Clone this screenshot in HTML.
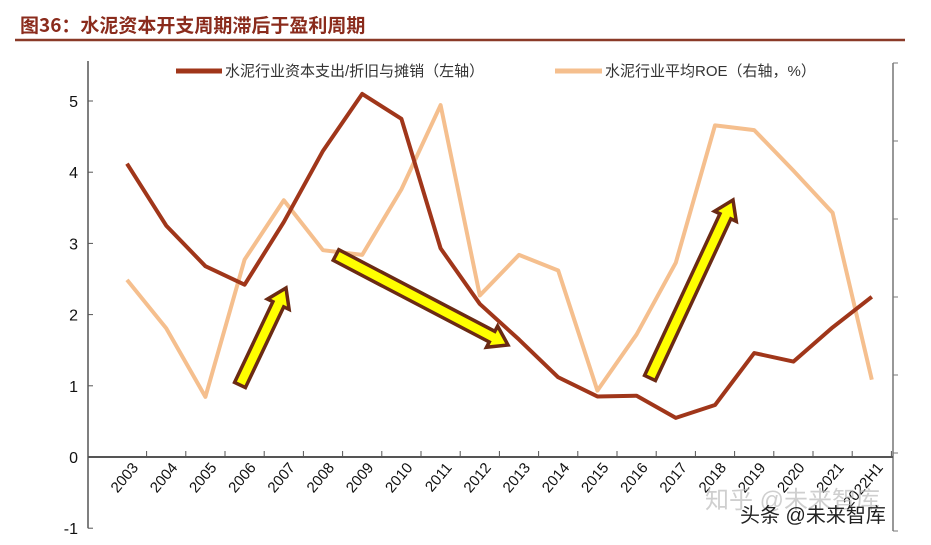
<!DOCTYPE html>
<html><head><meta charset="utf-8"><style>
body{margin:0;background:#fff;width:931px;height:540px;overflow:hidden;font-family:"Liberation Sans","Noto Sans CJK SC",sans-serif}
</style></head><body>
<svg width="931" height="540" xmlns="http://www.w3.org/2000/svg">
<text x="20" y="32" font-size="19" font-weight="bold" fill="#8a2b1c" font-family="'Noto Sans CJK SC',sans-serif">图36：水泥资本开支周期滞后于盈利周期</text>
<line x1="15" y1="40" x2="905" y2="40" stroke="#8a3a28" stroke-width="2.5"/>
<g id="axes"></g>
<g id="series"></g>
<g id="arrows"></g>
<g font-size="15" fill="#333">
<line x1="176" y1="71" x2="222" y2="71" stroke="#a0361a" stroke-width="5"/>
<text x="225" y="76">水泥行业资本支出/折旧与摊销（左轴）</text>
<line x1="555" y1="71" x2="602" y2="71" stroke="#f5bf8e" stroke-width="5"/>
<text x="605" y="76">水泥行业平均ROE（右轴，%）</text>
</g>
<text x="705" y="508" font-size="24" fill="#bbb" opacity="0.7">知乎 @未来智库</text>
<text x="740" y="522" font-size="20" fill="#222">头条 @未来智库</text>
</svg>
<script>
const categories=["2003","2004","2005","2006","2007","2008","2009","2010","2011","2012","2013","2014","2015","2016","2017","2018","2019","2020","2021","2022H1"];
const capex=[4.12,3.25,2.68,2.42,3.3,4.3,5.1,4.75,2.93,2.15,1.65,1.12,0.85,0.86,0.55,0.73,1.46,1.34,1.82,2.25];
const roe=[16.1,13.0,8.6,17.4,21.2,18.0,17.7,21.9,27.3,15.1,17.7,16.7,9.0,12.6,17.2,26.0,25.7,23.1,20.4,9.7];
const leftTicks=[-1,0,1,2,3,4,5];
const rightTicks=[0,5,10,15,20,25,30];
const NS="http://www.w3.org/2000/svg";
const x=i=>127+i*39.2;
const yL=v=>457-71.2*v;
const yR=v=>531-15.6*v;
function mk(tag,attrs,parent){const e=document.createElementNS(NS,tag);for(const k in attrs)e.setAttribute(k,attrs[k]);parent.appendChild(e);return e;}
const axes=document.getElementById('axes'),series=document.getElementById('series'),arrows=document.getElementById('arrows');
let e;
e=mk('line',{x1:88,y1:yL(5)-40,x2:88,y2:yL(-1),stroke:'#555','stroke-width':1.5},axes);


e=mk('line',{x1:893,y1:yR(30),x2:893,y2:yR(0),stroke:'#777','stroke-width':1.5},axes);


e=mk('line',{x1:88,y1:yL(0),x2:893,y2:yL(0),stroke:'#555','stroke-width':2},axes);


leftTicks.forEach(v=>{
 mk('line',{x1:88,y1:yL(v),x2:93,y2:yL(v),stroke:'#555'},axes);
 e=mk('text',{x:78,y:yL(v)+6,'font-size':16,'text-anchor':'end',fill:'#111'},axes);e.textContent=v;
 
 
});
rightTicks.forEach(v=>{mk('line',{x1:893,y1:yR(v),x2:898,y2:yR(v),stroke:'#777'},axes);});
categories.forEach((c,i)=>{
 const xx=x(i)+19.6;
 mk('line',{x1:xx,y1:457,x2:xx,y2:451,stroke:'#555'},axes);
 e=mk('text',{x:x(i)+12,y:468,'font-size':15,'text-anchor':'end',fill:'#111',transform:`rotate(-50 ${x(i)+12} 468)`},axes);e.textContent=c;
 
 
});
e=mk('polyline',{points:roe.map((v,i)=>x(i)+','+yR(v)).join(' '),fill:'none',stroke:'#f5bf8e','stroke-width':4,'stroke-linejoin':'round'},series);


e=mk('polyline',{points:capex.map((v,i)=>x(i)+','+yL(v)).join(' '),fill:'none',stroke:'#a0361a','stroke-width':4,'stroke-linejoin':'round'},series);


function arrow(x1,y1,x2,y2,name){
 const L=Math.hypot(x2-x1,y2-y1),a=Math.atan2(y2-y1,x2-x1)*180/Math.PI;
 const p=`0,-6 ${L-18},-6 ${L-18},-12 ${L},0 ${L-18},12 ${L-18},6 0,6`;
 const el=mk('polygon',{points:p,fill:'#ffff00',stroke:'#6b2a14','stroke-width':3.5,'stroke-linejoin':'miter',transform:`translate(${x1} ${y1}) rotate(${a})`},arrows);
 
 
}
arrow(240,385,286,288,'arrow-up-1');
arrow(336,255,508,345,'arrow-down');
arrow(650,378,733,200,'arrow-up-2');
</script>
</body></html>
